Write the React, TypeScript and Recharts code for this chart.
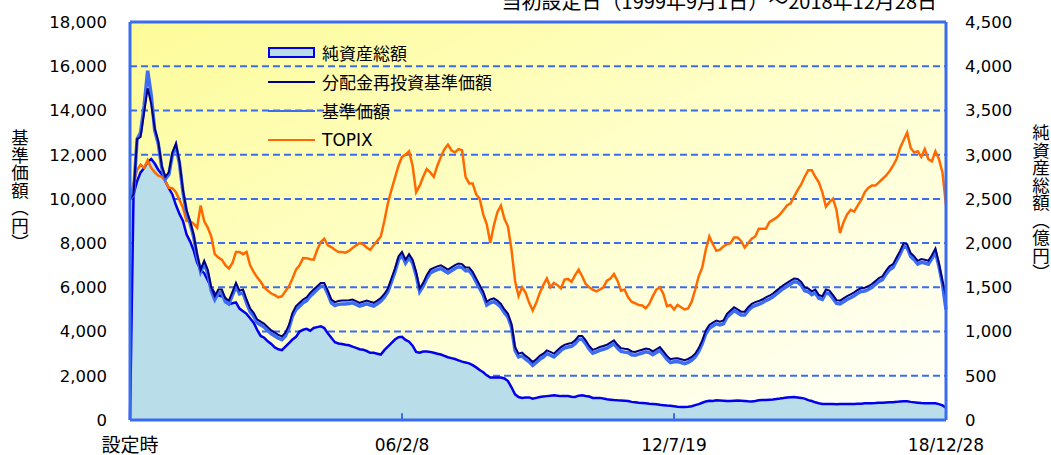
import React from 'react';
import {
  ComposedChart,
  Area,
  Line,
  XAxis,
  YAxis,
  CartesianGrid,
  Legend,
  ReferenceLine,
} from 'recharts';

// monthly readings, index 0 = 1999/9 (設定時) ... 231 = 2018/12
const navValues = [
  10000, 10200, 12700, 12800, 13900, 15000, 14300, 13200, 12600, 11500,
  11000, 11200, 12100, 12500, 11700, 10400, 9500, 9000, 8400, 7500,
  6800, 7200, 6800, 6000, 5600, 5900, 5900, 5500, 5400, 5800,
  6200, 5850, 5900, 5450, 5050, 4850, 4550, 4450, 4350, 4200,
  4050, 3950, 3850, 3780, 3950, 4300, 4850, 5150, 5300, 5450,
  5550, 5750, 5900, 6050, 6200, 6200, 5850, 5450, 5330, 5380,
  5400, 5400, 5420, 5450, 5380, 5300, 5350, 5400, 5350, 5300,
  5400, 5520, 5700, 5950, 6400, 6850, 7400, 7600, 7250, 7500,
  7250, 6700, 5950, 6200, 6550, 6800, 6880, 6950, 7000, 6900,
  6800, 6900, 7000, 7080, 7050, 6900, 6900, 6700, 6400, 6100,
  5800, 5350, 5450, 5500, 5400, 5250, 5000, 4800, 4350, 3300,
  3000, 3050, 2900, 2780, 2620, 2750, 2900, 3000, 3150, 3080,
  3000, 3150, 3300, 3400, 3450, 3480, 3600, 3800, 3800, 3600,
  3350, 3170, 3230, 3300, 3350, 3400, 3500, 3600, 3400, 3250,
  3220, 3200, 3100, 3080, 3130, 3180, 3230, 3200, 3100, 3200,
  3300, 3100, 2900, 2750, 2780, 2790, 2750, 2700, 2760, 2850,
  3000, 3250, 3600, 4050, 4300, 4400, 4500, 4450, 4500, 4800,
  4950, 5100, 5000, 4900, 4900, 5100, 5250, 5330, 5380, 5450,
  5550, 5620, 5720, 5850, 5980, 6100, 6200, 6300, 6400, 6380,
  6250, 6000, 5950, 5820, 5900, 5650, 5600, 5900, 5850, 5650,
  5420, 5400, 5500, 5600, 5680, 5770, 5880, 5960, 5980, 6050,
  6150, 6280, 6420, 6500, 6750, 6950, 7050, 7350, 7650, 8000,
  7950, 7550, 7400, 7200, 7280, 7250, 7200, 7450, 7750, 7100,
  6300, 5600,
];

const baseValues = [
  10000, 10200, 12700, 13000, 14200, 15800, 14700, 13100, 12500, 11400,
  10900, 11100, 12000, 12400, 11600, 10300, 9400, 8900, 8300, 7400,
  6700, 7050, 6650, 5850, 5450, 5750, 5750, 5350, 5250, 5650,
  6050, 5700, 5750, 5300, 4900, 4700, 4400, 4300, 4200, 4050,
  3900, 3800, 3700, 3630, 3800, 4150, 4700, 5000, 5150, 5300,
  5400, 5600, 5750, 5900, 6050, 6050, 5700, 5300, 5180, 5230,
  5250, 5250, 5270, 5300, 5230, 5150, 5200, 5250, 5200, 5150,
  5250, 5370, 5550, 5800, 6250, 6700, 7250, 7450, 7100, 7350,
  7100, 6550, 5800, 6050, 6400, 6650, 6730, 6800, 6850, 6750,
  6650, 6750, 6850, 6930, 6900, 6750, 6750, 6550, 6250, 5950,
  5650, 5200, 5300, 5350, 5250, 5100, 4850, 4650, 4200, 3150,
  2850, 2900, 2750, 2630, 2470, 2600, 2750, 2850, 3000, 2930,
  2850, 3000, 3150, 3250, 3300, 3330, 3450, 3650, 3650, 3450,
  3200, 3020, 3080, 3150, 3200, 3250, 3350, 3450, 3250, 3100,
  3070, 3050, 2950, 2930, 2980, 3030, 3080, 3050, 2950, 3050,
  3150, 2950, 2750, 2600, 2630, 2640, 2600, 2550, 2610, 2700,
  2850, 3100, 3450, 3900, 4150, 4250, 4350, 4300, 4350, 4650,
  4800, 4950, 4850, 4750, 4750, 4950, 5100, 5180, 5230, 5300,
  5400, 5470, 5570, 5700, 5830, 5950, 6050, 6150, 6250, 6230,
  6100, 5850, 5800, 5670, 5750, 5500, 5450, 5750, 5700, 5500,
  5270, 5250, 5350, 5450, 5530, 5620, 5730, 5810, 5830, 5900,
  6000, 6130, 6270, 6350, 6600, 6800, 6900, 7200, 7500, 7850,
  7800, 7400, 7250, 7050, 7130, 7100, 7050, 7300, 7600, 6950,
  6150, 5000,
];

const topixValues = [
  10000, 10700, 11300, 11550, 11400, 11750, 11400, 11200, 11050, 11000,
  10800, 10500, 10480, 10300, 9950, 9600, 9000, 9000, 8880, 8700,
  9700, 9000, 8700, 8300, 7500, 7350, 7250, 7000, 6850, 7100,
  7600, 7600, 7500, 7600, 7000, 6700, 6450, 6250, 6000, 5850,
  5720, 5650, 5550, 5600, 5820, 6050, 6400, 6800, 7000, 7330,
  7320, 7270, 7250, 7700, 8050, 8200, 7900, 7820, 7700, 7600,
  7600, 7570, 7650, 7780, 7900, 8000, 7950, 7800, 7700, 7900,
  8100, 8300, 9000, 9800, 10400, 10950, 11500, 11900, 12000, 12150,
  11500, 10300, 10600, 11000, 11350, 11200, 11000, 11500, 11900, 12250,
  12450, 12200, 12100, 12250, 12200, 11000, 10700, 10700, 10200, 10000,
  9300, 8850, 8000, 8800, 9400, 9700, 9100, 8750, 7700, 6300,
  5600, 6000, 5750, 5300, 4950, 5300, 5750, 6100, 6400, 6000,
  6200, 6100, 5950, 6350, 6380, 6250, 6550, 6800, 6500, 6150,
  6000, 5900, 5820, 5900, 6000, 6300, 6400, 6600, 6300, 5850,
  5900, 5550, 5350, 5280, 5200, 5180, 5050, 5250, 5600, 5900,
  6000, 5700, 5150, 5200, 5000, 5200, 5100, 5000, 5050, 5350,
  5900, 6500, 6900, 7700, 8300, 7950, 7650, 7700, 7850, 7950,
  8000, 8250, 8250, 8100, 7800, 8000, 8200, 8300, 8650, 8650,
  8650, 8950, 9050, 9150, 9300, 9500, 9700, 9800, 10100, 10400,
  10650, 11000, 11300, 11300, 11000, 10750, 10300, 9650, 9850, 10000,
  9500, 8450, 8950, 9300, 9500, 9420, 9700, 9950, 10300, 10500,
  10600, 10600, 10750, 10900, 11050, 11250, 11500, 11800, 12300, 12650,
  13000, 12300, 12100, 12150, 11900, 12250, 11800, 11700, 12150, 11800,
  11200, 9700,
];

// 純資産総額 (億円)
const assetValues = [
  0, 2550, 2700, 2800, 2850, 2920, 2950, 2900, 2830, 2780,
  2700, 2620, 2550, 2430, 2330, 2250, 2100, 2020, 1920, 1780,
  1700, 1660, 1580, 1500, 1430, 1410, 1400, 1380, 1310, 1320,
  1330, 1260, 1230, 1200, 1150, 1100, 1020, 950, 930, 890,
  860, 820, 800, 790, 830, 870, 910, 940, 1000, 1020,
  1030, 1010, 1040, 1050, 1060, 1040, 980, 930, 880, 865,
  860, 850, 845, 830, 815, 800, 795, 780, 760, 760,
  750, 740, 790, 830, 870, 910, 935, 940, 905, 885,
  840, 770, 760, 775, 775, 770, 760, 750, 740, 725,
  710, 700, 690, 675, 660, 650, 640, 620, 595, 565,
  540, 505, 480, 480, 480, 480, 470, 440, 370, 290,
  260, 250, 255, 255, 240, 250, 260, 265, 270, 275,
  280, 275, 270, 270, 270, 262, 260, 275, 280, 272,
  265, 250, 250, 250, 242, 235, 230, 225, 222, 220,
  218, 215, 205, 200, 195, 193, 190, 185, 182, 178,
  172, 168, 163, 160, 155, 150, 148, 148, 150, 155,
  168, 180, 195, 210, 218, 215, 222, 220, 218, 215,
  215, 218, 220, 218, 215, 212, 210, 215, 222, 225,
  225, 230, 232, 238, 242, 248, 255, 258, 260, 255,
  250, 242, 225, 215, 200, 190, 182, 180, 180, 180,
  178, 180, 182, 182, 180, 182, 185, 185, 188, 190,
  190, 192, 195, 195, 198, 200, 202, 205, 210, 212,
  212, 205, 200, 196, 192, 190, 188, 190, 190, 180,
  165, 140,
];

const xTickMonths = [0, 77, 154, 231];
const xTickLabels = ['設定時', '06/2/8', '12/7/19', '18/12/28'];
const leftTicks = [0, 2000, 4000, 6000, 8000, 10000, 12000, 14000, 16000, 18000];
const rightTicks = [0, 500, 1000, 1500, 2000, 2500, 3000, 3500, 4000, 4500];

const BLUE = '#3a6cf0';
const FONT = '"DejaVu Sans", "Noto Sans CJK JP", sans-serif';
const CJK = '"Noto Sans CJK JP", sans-serif';

const legendItems = [
  { label: '純資産総額', kind: 'box', color: '#0000ee', fill: '#b9dee9' },
  { label: '分配金再投資基準価額', kind: 'line', color: '#000080' },
  { label: '基準価額', kind: 'line', color: '#3d6df2' },
  { label: 'TOPIX', kind: 'line', color: '#ff6a00' },
];

const rows = navValues.map((v, i) => ({
  m: i,
  nav: v,
  base: baseValues[i],
  topix: topixValues[i],
  assets: assetValues[i],
}));

const fmt = (v: number) => v.toLocaleString('en-US');

const XTick = (props: any) => {
  const { x, y, payload } = props;
  const label = xTickLabels[xTickMonths.indexOf(payload.value)];
  const wide = /[^\x00-\x7f]/.test(label);
  return (
    <text x={x} y={y} dy="0.71em" textAnchor="middle" fontSize={wide ? 19 : 17} fontFamily={FONT} fill="#000">
      {label}
    </text>
  );
};

// vertical-writing axis title
const VerticalTitle = (props: any) => {
  const { viewBox, text, dx, dy } = props;
  return (
    <text
      x={viewBox.x + dx}
      y={viewBox.y + dy}
      fontSize={17.5}
      fontFamily={CJK}
      fill="#000"
      style={{ writingMode: 'vertical-rl' }}
    >
      {text}
    </text>
  );
};

const renderLegend = () => (
  <div style={{ fontFamily: FONT, fontSize: 17, color: '#000' }}>
    {legendItems.map((it) => (
      <div key={it.label} style={{ display: 'flex', alignItems: 'center', height: 29 }}>
        {it.kind === 'box' ? (
          <div style={{ width: 43, height: 7, border: `2px solid ${it.color}`, background: it.fill }} />
        ) : (
          <div style={{ width: 47, height: 2, background: it.color }} />
        )}
        <span style={{ marginLeft: 7, whiteSpace: 'nowrap' }}>{it.label}</span>
      </div>
    ))}
  </div>
);

export default function App() {
  return (
    <div style={{ position: 'absolute', left: 0, top: 0 }}>
      <ComposedChart width={1051} height={455} data={rows} margin={{ top: 22, right: 45, bottom: 0, left: 70 }}>
        <defs>
          <linearGradient id="plotBg" x1="0" y1="0" x2="1" y2="1">
            <stop offset="0" stopColor="#fdfb98" />
            <stop offset="0.5" stopColor="#ffffcc" />
            <stop offset="1" stopColor="#fffffb" />
          </linearGradient>
        </defs>
        <text x={937} y={9} textAnchor="end" fontSize={20} fontFamily={CJK} fill="#000">
          当初設定日（1999年9月1日）～2018年12月28日
        </text>
        <CartesianGrid
          yAxisId="left"
          vertical={false}
          stroke={BLUE}
          strokeDasharray="7 4"
          strokeWidth={2}
          fill="url(#plotBg)"
          fillOpacity={1}
        />
        <XAxis
          dataKey="m"
          type="number"
          domain={[0, 231]}
          ticks={xTickMonths}
          interval={0}
          tick={<XTick />}
          tickLine={false}
          tickSize={0}
          tickMargin={19}
          height={35}
          axisLine={{ stroke: BLUE, strokeWidth: 3 }}
        />
        <YAxis
          yAxisId="left"
          domain={[0, 18000]}
          ticks={leftTicks}
          interval={0}
          width={60}
          tickLine={false}
          tickSize={0}
          tickMargin={23}
          tickFormatter={fmt}
          tick={{ fontSize: 16.5, fill: '#000', fontFamily: FONT }}
          axisLine={{ stroke: BLUE, strokeWidth: 3 }}
          label={<VerticalTitle text="基準価額（円）" dx={-50} dy={107} />}
        />
        <YAxis
          yAxisId="right"
          orientation="right"
          domain={[0, 4500]}
          ticks={rightTicks}
          interval={0}
          width={60}
          tickLine={false}
          tickSize={0}
          tickMargin={19}
          tickFormatter={fmt}
          tick={{ fontSize: 16.5, fill: '#000', fontFamily: FONT }}
          axisLine={{ stroke: BLUE, strokeWidth: 3 }}
          label={<VerticalTitle text="純資産総額（億円）" dx={95} dy={102} />}
        />
        <Area
          yAxisId="right"
          dataKey="assets"
          type="linear"
          stroke="#0000ee"
          strokeWidth={2.5}
          fill="#b9dee9"
          fillOpacity={1}
          dot={false}
          activeDot={false}
          isAnimationActive={false}
        />
        <Line yAxisId="left" dataKey="topix" type="linear" stroke="#ff6a00" strokeWidth={2.5} dot={false} isAnimationActive={false} />
        <Line yAxisId="left" dataKey="base" type="linear" stroke="#3d6df2" strokeWidth={3.5} dot={false} isAnimationActive={false} />
        <Line yAxisId="left" dataKey="nav" type="linear" stroke="#000080" strokeWidth={2} dot={false} isAnimationActive={false} />
        <ReferenceLine yAxisId="left" y={18000} stroke={BLUE} strokeWidth={3} />
        <ReferenceLine yAxisId="left" segment={[{ x: 77, y: 0 }, { x: 77, y: 300 }]} stroke={BLUE} strokeWidth={2} />
        <ReferenceLine yAxisId="left" segment={[{ x: 154, y: 0 }, { x: 154, y: 300 }]} stroke={BLUE} strokeWidth={2} />
        <Legend
          layout="vertical"
          align="center"
          verticalAlign="middle"
          content={renderLegend}
          wrapperStyle={{ left: 268, top: 38, width: 280 }}
        />
      </ComposedChart>
    </div>
  );
}
